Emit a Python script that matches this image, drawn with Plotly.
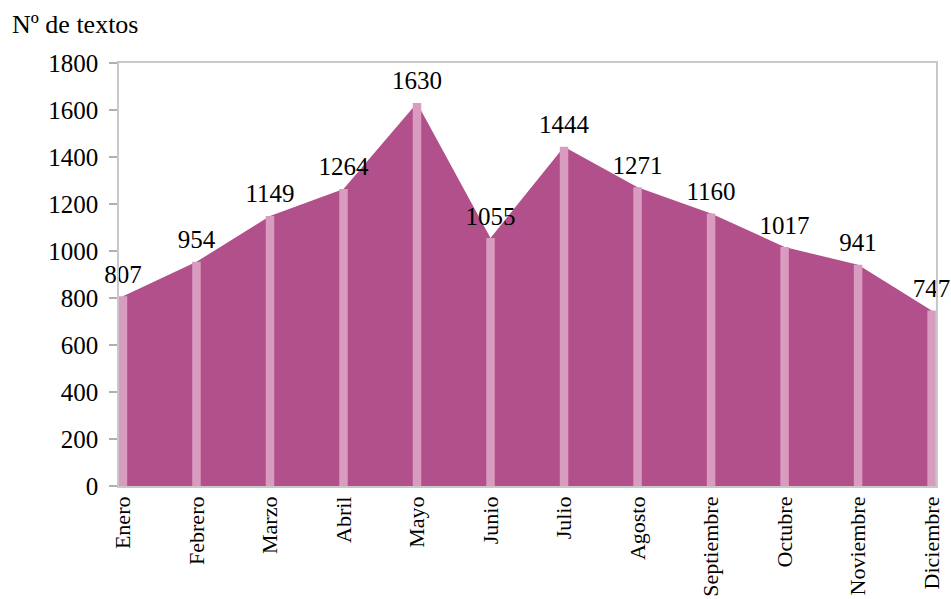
import plotly.graph_objects as go

months = ["Enero", "Febrero", "Marzo", "Abril", "Mayo", "Junio", "Julio",
          "Agosto", "Septiembre", "Octubre", "Noviembre", "Diciembre"]
textos = [807, 954, 1149, 1264, 1630, 1055, 1444, 1271, 1160, 1017, 941, 747]
y_ticks = list(range(0, 1801, 200))

FILL = "#B1508B"
DROP = "#D99BC0"
FONT = "'Liberation Serif', 'Times New Roman', 'DejaVu Serif', serif"

# drop-line segments built from the data
drop_x, drop_y = [], []
for m, v in zip(months, textos):
    drop_x += [m, m, None]
    drop_y += [0, v, None]

fig = go.Figure()
fig.add_trace(go.Scatter(x=months, y=textos, mode="lines", fill="tozeroy",
                         fillcolor=FILL, line=dict(width=0, color=FILL),
                         hoverinfo="skip", showlegend=False))
fig.add_trace(go.Scatter(x=drop_x, y=drop_y, mode="lines",
                         line=dict(width=8.5, color=DROP),
                         hoverinfo="skip", showlegend=False))
fig.add_trace(go.Scatter(x=months, y=textos, mode="markers+text",
                         marker=dict(size=10, color="rgba(0,0,0,0)"),
                         text=[str(v) for v in textos], textposition="top center",
                         textfont=dict(family=FONT, size=25, color="#000000"),
                         cliponaxis=False, showlegend=False, hoverinfo="skip"))

fig.update_layout(
    width=951, height=599,
    margin=dict(l=119, r=15, t=63, b=113, autoexpand=False),
    paper_bgcolor="white", plot_bgcolor="white",
    font=dict(family=FONT, size=22, color="#000000"),
    xaxis=dict(type="category", range=[-0.054, 11.06], showgrid=False,
               showline=True, linecolor="#C8C8C8", linewidth=1.5, mirror=True,
               ticks="", tickangle=-90, tickfont=dict(family=FONT, size=22),
               zeroline=False, automargin=False),
    yaxis=dict(range=[0, 1800], tickvals=y_ticks, showgrid=False,
               showline=True, linecolor="#C8C8C8", linewidth=1.5, mirror=True,
               ticks="outside", ticklen=8, tickcolor="#B0B0B0", tickwidth=1.5,
               tickfont=dict(family=FONT, size=25), zeroline=False,
               ticklabelstandoff=6, automargin=False),
    annotations=[dict(text="Nº de textos", xref="paper", yref="paper",
                      x=-0.1334, y=1.092, xanchor="left", yanchor="middle",
                      showarrow=False, font=dict(family=FONT, size=26))],
)

fig.write_html("out.html", config={"displayModeBar": False},
               post_script="document.body.style.margin='0';document.body.style.padding='0';")
